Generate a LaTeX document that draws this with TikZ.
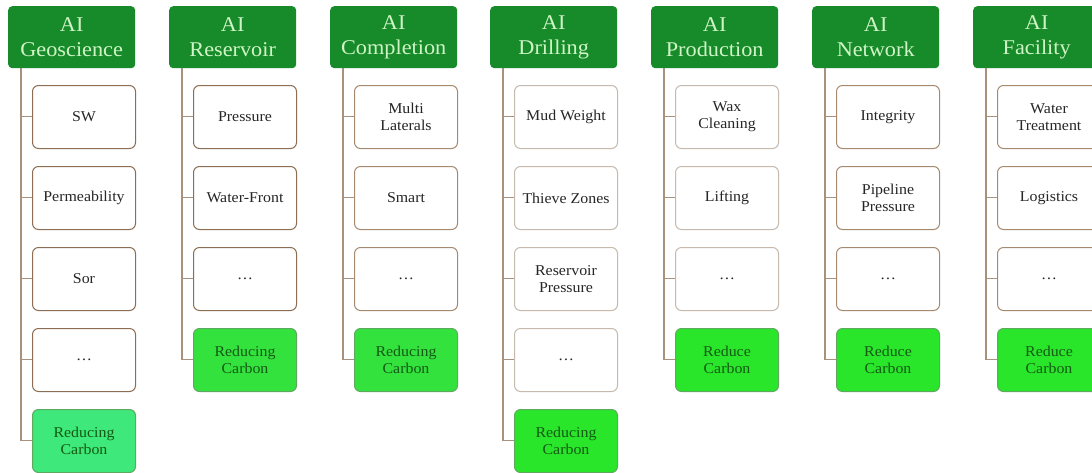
\documentclass[tikz,border=0pt]{standalone}
\usepackage{fontspec}
\setmainfont[FakeStretch=1.06]{Liberation Serif}
\definecolor{hdrfill}{HTML}{178A2A}
\definecolor{hdrtext}{HTML}{CFF5C6}
\definecolor{linkcol}{HTML}{A8927E}
\definecolor{goaltext}{HTML}{145A14}
\definecolor{goaledge}{HTML}{5FA85F}
\definecolor{edgeA}{HTML}{8E6E52}
\definecolor{edgeB}{HTML}{A68A70}
\definecolor{edgeC}{HTML}{C6BAAE}
\definecolor{goalA}{HTML}{3EE87A}
\definecolor{goalB}{HTML}{34E23E}
\definecolor{goalC}{HTML}{2AE62A}
\tikzset{
  hdrbox/.style={fill=hdrfill, rounded corners=4pt, anchor=north west,
    minimum width=127pt, minimum height=62pt, inner sep=0pt,
    text=hdrtext, align=center, font=\fontsize{21}{25}\selectfont},
  cellbox/.style={fill=white, rounded corners=6pt, line width=1pt,
    anchor=north west, minimum width=103pt, minimum height=63pt,
    inner sep=2pt, align=center, text=black!85,
    font=\fontsize{15}{17}\selectfont},
  goalbox/.style={cellbox, draw=goaledge, text=goaltext},
  link/.style={draw=linkcol, line width=1.1pt}
}
% #1 id, #2 left x, #3 header, #4 cell edge, #5 goal fill,
% #6 cells, #7 goal index, #8 goal text
\newcommand\lane[8]{%
  \node[hdrbox] (#1) at (#2,6) {#3};
  \foreach \t [count=\k] in {#6}{%
    \draw[link] ([xshift=13pt]#1.south west) |- (#2+24,85+81*\k-81+31.5);
    \node[cellbox, draw=#4] (#1-\k) at (#2+24,85+81*\k-81) {\t};
  }
  \draw[link] ([xshift=13pt]#1.south west) |- (#2+24,85+81*#7-81+31.5);
  \node[goalbox, fill=#5] (#1-goal) at (#2+24,85+81*#7-81) {#8};
}
\begin{document}
\begin{tikzpicture}[x=1pt,y=-1pt]
\useasboundingbox (0,0) rectangle (1092,472);
\clip (0,0) rectangle (1092,472);
\fill[white] (0,0) rectangle (1092,472);
\lane{geo}{8}{AI\\Geoscience}{edgeA}{goalA}
  {SW, Permeability, Sor, \dots}{5}{Reducing\\Carbon}
\lane{res}{169}{AI\\Reservoir}{edgeA}{goalB}
  {Pressure, Water-Front, \dots}{4}{Reducing\\Carbon}
\lane{com}{330}{AI\\Completion}{edgeB}{goalB}
  {{Multi\\Laterals}, Smart, \dots}{4}{Reducing\\Carbon}
\lane{dri}{490}{AI\\Drilling}{edgeC}{goalC}
  {Mud Weight, Thieve Zones, {Reservoir\\Pressure}, \dots}{5}{Reducing\\Carbon}
\lane{pro}{651}{AI\\Production}{edgeC}{goalC}
  {{Wax\\Cleaning}, Lifting, \dots}{4}{Reduce\\Carbon}
\lane{net}{812}{AI\\Network}{edgeB}{goalC}
  {Integrity, {Pipeline\\Pressure}, \dots}{4}{Reduce\\Carbon}
\lane{fac}{973}{AI\\Facility}{edgeB}{goalC}
  {{Water\\Treatment}, Logistics, \dots}{4}{Reduce\\Carbon}
\end{tikzpicture}
\end{document}
